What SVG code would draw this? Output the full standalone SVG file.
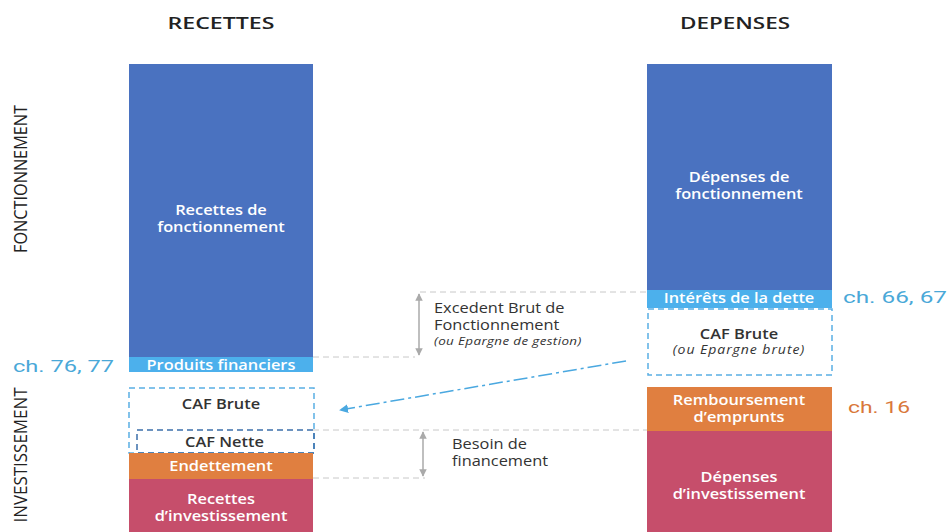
<svg xmlns="http://www.w3.org/2000/svg" width="951" height="532" viewBox="0 0 951 532">
<style>
.t{font-family:"Open Sans","Liberation Sans",sans-serif;font-weight:600;font-size:14px;text-anchor:middle}
.w{fill:#ffffff}
.d{fill:#333333}
.i{font-style:italic;font-weight:400;font-size:12px;letter-spacing:0.8px}
.h{font-family:"Open Sans","Liberation Sans",sans-serif;font-size:17px;fill:#222;text-anchor:middle;font-weight:600}
.v{font-family:"Open Sans","Liberation Sans",sans-serif;font-size:18px;fill:#222;text-anchor:middle}
.ch{font-family:"Roboto","Liberation Sans",sans-serif;font-size:17px}
.g{stroke:#c8c8c8;stroke-width:1;stroke-dasharray:6 4;fill:none}
.ga{stroke:#aaaaaa;stroke-width:1.5;fill:none}
.db{stroke:#5aaee3;stroke-width:1.5;stroke-dasharray:6 4;fill:none}
.dn{stroke:#3b6faa;stroke-width:1.5;stroke-dasharray:6 4;fill:none}
.lbl{font-family:"Open Sans","Liberation Sans",sans-serif;font-size:14px;fill:#333;font-weight:500}
</style>
<defs>
<marker id="ah" viewBox="0 0 10 10" refX="9" refY="5" markerWidth="5" markerHeight="5" orient="auto-start-reverse"><path d="M0,0 L10,5 L0,10 z" fill="#aaaaaa"/></marker>
<marker id="bh" viewBox="0 0 10 10" refX="9" refY="5" markerWidth="6" markerHeight="6" orient="auto"><path d="M0,0 L10,5 L0,10 z" fill="#4aa8e0"/></marker>
</defs>
<rect width="951" height="532" fill="#ffffff"/>
<text class="h" x="221" y="29" textLength="107" lengthAdjust="spacingAndGlyphs">RECETTES</text>
<text class="h" x="735" y="29" textLength="110" lengthAdjust="spacingAndGlyphs">DEPENSES</text>
<text class="v" transform="translate(27,179) rotate(-90)" textLength="148" lengthAdjust="spacingAndGlyphs">FONCTIONNEMENT</text>
<text class="v" transform="translate(27,455) rotate(-90)" textLength="135" lengthAdjust="spacingAndGlyphs">INVESTISSEMENT</text>

<g id="connectors">
<line class="g" x1="313" y1="357" x2="415" y2="357"/>
<line class="g" x1="420" y1="292" x2="647" y2="292"/>
<line class="g" x1="313" y1="430" x2="647" y2="430"/>
<line class="g" x1="313" y1="478" x2="425" y2="478"/>
<line class="ga" x1="419" y1="294" x2="419" y2="355" marker-start="url(#ah)" marker-end="url(#ah)"/>
<line class="ga" x1="423" y1="432" x2="423" y2="476" marker-start="url(#ah)" marker-end="url(#ah)"/>
<line x1="626" y1="361" x2="340" y2="410" stroke="#4aa8e0" stroke-width="1.5" stroke-dasharray="14 4 3 4" marker-end="url(#bh)"/>
</g>

<g id="recettes-fonctionnement"><rect x="129" y="64" width="184" height="293" fill="#4a72c0"/>
<g transform="matrix(1.17 0 0 1 -37.57 0)"><text class="t w" x="221" y="215">Recettes de</text><text class="t w" x="221" y="232">fonctionnement</text></g></g>
<g id="produits-financiers"><rect x="129" y="357" width="184" height="15" fill="#4cb0ec"/>
<g transform="matrix(1.17 0 0 1 -37.57 0)"><text class="t w" x="221" y="370">Produits financiers</text></g></g>
<g id="caf-brute-left"><rect class="db" x="129" y="388" width="185" height="65"/>
<g transform="matrix(1.17 0 0 1 -37.57 0)"><text class="t d" x="221" y="409">CAF Brute</text></g></g>
<g id="caf-nette"><rect class="dn" x="137" y="430" width="177" height="23"/>
<g transform="matrix(1.17 0 0 1 -37.57 0)"><text class="t d" x="224" y="447">CAF Nette</text></g></g>
<g id="endettement"><rect x="129" y="453" width="184" height="26" fill="#e07f40"/>
<g transform="matrix(1.17 0 0 1 -37.57 0)"><text class="t w" x="221" y="471">Endettement</text></g></g>
<g id="recettes-investissement"><rect x="129" y="479" width="184" height="53" fill="#c64e6b"/>
<g transform="matrix(1.17 0 0 1 -37.57 0)"><text class="t w" x="221" y="504">Recettes</text><text class="t w" x="221" y="521">d’investissement</text></g></g>

<g id="depenses-fonctionnement"><rect x="647" y="64" width="185" height="226" fill="#4a72c0"/>
<g transform="matrix(1.17 0 0 1 -125.63 0)"><text class="t w" x="739" y="182">Dépenses de</text><text class="t w" x="739" y="199">fonctionnement</text></g></g>
<g id="interets"><rect x="647" y="290" width="185" height="18" fill="#4cb0ec"/>
<g transform="matrix(1.17 0 0 1 -125.63 0)"><text class="t w" x="739" y="303">Intérêts de la dette</text></g></g>
<g id="caf-brute-right"><rect class="db" x="648" y="309" width="184" height="66"/>
<g transform="matrix(1.17 0 0 1 -125.63 0)"><text class="t d" x="739" y="339">CAF Brute</text><text class="t d i" x="739" y="354">(ou Epargne brute)</text></g></g>
<g id="remboursement"><rect x="647" y="387" width="185" height="44" fill="#e07f40"/>
<g transform="matrix(1.17 0 0 1 -125.63 0)"><text class="t w" x="739" y="405">Remboursement</text><text class="t w" x="739" y="422">d’emprunts</text></g></g>
<g id="depenses-investissement"><rect x="647" y="431" width="185" height="101" fill="#c64e6b"/>
<g transform="matrix(1.17 0 0 1 -125.63 0)"><text class="t w" x="739" y="482">Dépenses</text><text class="t w" x="739" y="499">d’investissement</text></g></g>

<g id="ebf-label" transform="matrix(1.17 0 0 1 -73.78 0)"><text class="lbl" x="434" y="313">Excedent Brut de</text><text class="lbl" x="434" y="330">Fonctionnement</text>
<text class="lbl" x="434" y="345" style="font-style:italic;font-size:11.5px;font-weight:400;letter-spacing:0.3px">(ou Epargne de gestion)</text></g>
<g id="besoin-label" transform="matrix(1.17 0 0 1 -76.84 0)"><text class="lbl" x="452" y="449">Besoin de</text><text class="lbl" x="452" y="466">financement</text></g>

<text class="ch" x="13" y="372" fill="#4aa8d8" textLength="101" lengthAdjust="spacingAndGlyphs">ch. 76, 77</text>
<text class="ch" x="843" y="303" fill="#4aa8d8" textLength="104" lengthAdjust="spacingAndGlyphs">ch. 66, 67</text>
<text class="ch" x="848" y="413" fill="#d9773a" textLength="62" lengthAdjust="spacingAndGlyphs">ch. 16</text>
</svg>
